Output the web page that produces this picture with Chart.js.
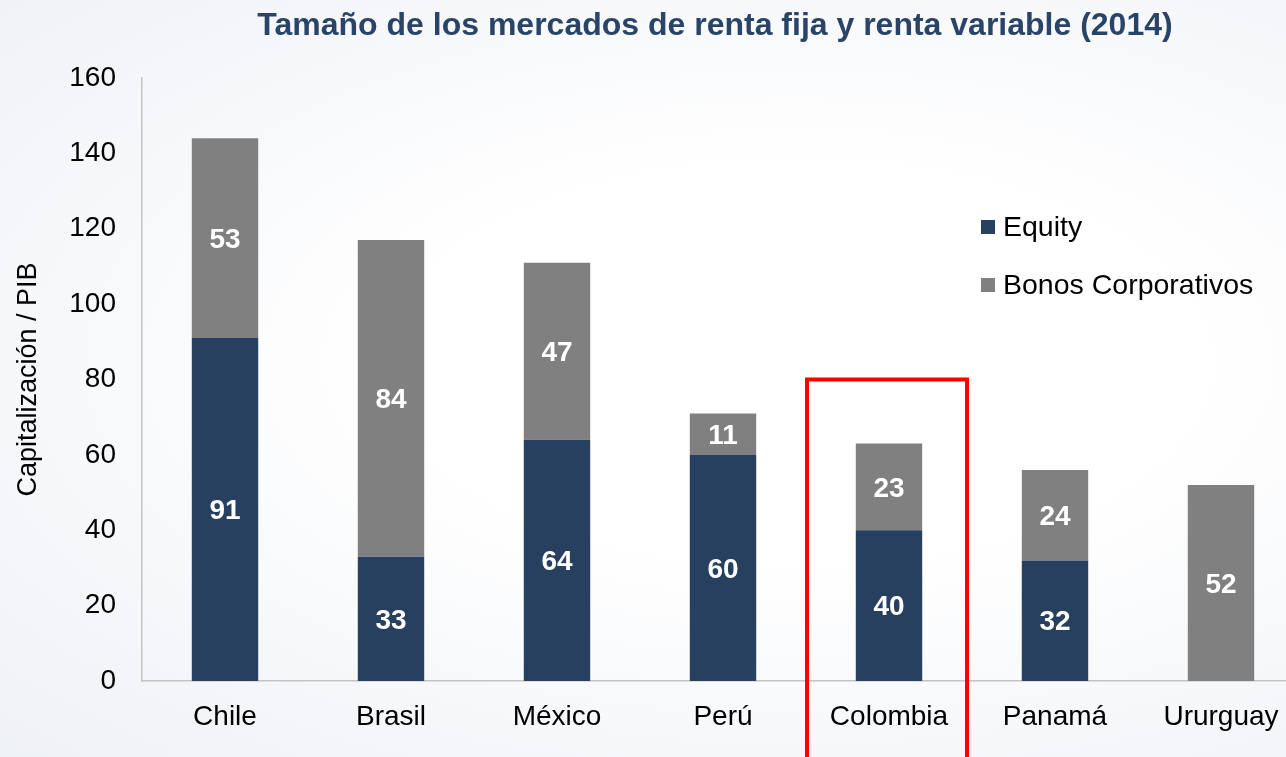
<!DOCTYPE html>
<html>
<head>
<meta charset="utf-8">
<script src="https://cdn.jsdelivr.net/npm/chart.js@4.4.1/dist/chart.umd.min.js"></script>
<style>
    html, body {
        margin: 0;
        padding: 0;
        width: 1286px;
        height: 757px;
        overflow: hidden;
        background: radial-gradient(ellipse at 62% 48%, #ffffff 35%, #eef1f6 100%);
    }
    .wrap {
        position: absolute;
        left: 0;
        top: 0;
        width: 1304px;
        height: 757px;
    }
</style>
</head>
<body>
<div class="wrap"><canvas id="chart"></canvas></div>
<script>
/* Data */
var categories = ['Chile', 'Brasil', 'México', 'Perú', 'Colombia', 'Panamá', 'Ururguay'];
var equity = [91, 33, 64, 60, 40, 32, null];
var bonos = [53, 84, 47, 11, 23, 24, 52];
var yTicks = [0, 20, 40, 60, 80, 100, 120, 140, 160];
var highlightIndex = 4; // Colombia
var highlightTop = 80;

/* Colors */
var navy = '#27405f';
var gray = '#808080';
var titleColor = '#2a4468';
var fontFamily = '"Liberation Sans", Arial, sans-serif';

/* Title drawn above the plot */
var titlePlugin = {
    id: 'titleText',
    afterDraw: function(chart) {
        var ctx = chart.ctx;
        ctx.save();
        ctx.font = 'bold 32px ' + fontFamily;
        ctx.fillStyle = titleColor;
        ctx.textAlign = 'center';
        ctx.textBaseline = 'middle';
        ctx.fillText('Tamaño de los mercados de renta fija y renta variable (2014)', 715, 26);
        ctx.restore();
    }
};

/* White value labels inside the bars */
var valuePlugin = {
    id: 'valueLabels',
    afterDatasetsDraw: function(chart) {
        var ctx = chart.ctx;
        ctx.save();
        ctx.font = 'bold 28px ' + fontFamily;
        ctx.fillStyle = '#ffffff';
        ctx.textAlign = 'center';
        ctx.textBaseline = 'middle';
        chart.data.datasets.forEach(function(ds, i) {
            var meta = chart.getDatasetMeta(i);
            meta.data.forEach(function(bar, j) {
                var v = ds.data[j];
                if (v === null || v === undefined) return;
                ctx.fillText(String(v), bar.x, (bar.y + bar.base) / 2 + 2);
            });
        });
        ctx.restore();
    }
};

/* Legend on the right */
var legendPlugin = {
    id: 'sideLegend',
    afterDraw: function(chart) {
        var ctx = chart.ctx;
        ctx.save();
        ctx.font = '28.5px ' + fontFamily;
        ctx.textBaseline = 'middle';
        ctx.textAlign = 'left';
        var rows = [227, 285];
        chart.data.datasets.forEach(function(ds, i) {
            ctx.fillStyle = ds.backgroundColor;
            ctx.fillRect(981, rows[i] - 7, 14, 14);
            ctx.fillStyle = '#000000';
            ctx.fillText(ds.label, 1003, rows[i] + 1);
        });
        ctx.restore();
    }
};

/* Red frame around the highlighted category */
var framePlugin = {
    id: 'highlightFrame',
    afterDraw: function(chart) {
        var ctx = chart.ctx;
        var x = chart.scales.x.getPixelForValue(highlightIndex);
        var top = chart.scales.y.getPixelForValue(highlightTop);
        ctx.save();
        ctx.strokeStyle = '#ff0000';
        ctx.lineWidth = 4;
        ctx.strokeRect(x - 82, top, 160, chart.height + 20 - top);
        ctx.restore();
    }
};

var ctx = document.getElementById('chart');

chart = new Chart(ctx, {
    type: 'bar',
    data: {
        labels: categories,
        datasets: [{
            label: 'Equity',
            data: equity,
            backgroundColor: navy,
            barPercentage: 0.4,
            categoryPercentage: 1
        }, {
            label: 'Bonos Corporativos',
            data: bonos,
            backgroundColor: gray,
            barPercentage: 0.4,
            categoryPercentage: 1
        }]
    },
    options: {
        responsive: true,
        maintainAspectRatio: false,
        animation: false,
        layout: {
            padding: { top: 78, right: 0, left: 0, bottom: 0 }
        },
        plugins: {
            legend: { display: false },
            tooltip: { enabled: false }
        },
        scales: {
            x: {
                stacked: true,
                grid: { display: false, drawTicks: false },
                border: { display: true, color: '#c4c4c4', width: 1.5 },
                ticks: {
                    color: '#000000',
                    font: { family: fontFamily, size: 28 },
                    padding: 19,
                    maxRotation: 0,
                    autoSkip: false
                },
                afterFit: function(scale) { scale.height = 76; }
            },
            y: {
                stacked: true,
                min: 0,
                max: 160,
                afterBuildTicks: function(scale) {
                    scale.ticks = yTicks.map(function(v) { return { value: v }; });
                },
                grid: { display: false, drawTicks: false },
                border: { display: true, color: '#c4c4c4', width: 1.5 },
                ticks: {
                    color: '#000000',
                    font: { family: fontFamily, size: 28 },
                    padding: 26
                },
                title: {
                    display: true,
                    text: 'Capitalización / PIB',
                    color: '#000000',
                    font: { family: fontFamily, size: 27 },
                    padding: { top: 12, bottom: 0 }
                },
                afterFit: function(scale) { scale.width = 142; }
            }
        }
    },
    plugins: [titlePlugin, valuePlugin, legendPlugin, framePlugin]
});
</script>
</body>
</html>
